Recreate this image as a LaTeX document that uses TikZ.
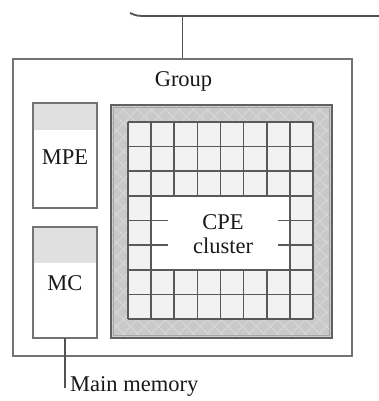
\documentclass[tikz,border=0pt]{standalone}
\usepackage{fontspec}
\setmainfont{Liberation Serif}
\begin{document}
\begin{tikzpicture}[x=1pt,y=-1pt,
  line/.style={draw=black!68,line width=1.8pt},
  boxline/.style={draw=black!55,line width=1.8pt},
  unit/.style={boxline,fill=white,minimum width=64pt,inner sep=0pt,outer sep=0pt},
  lbl/.style={font=\fontsize{22.5}{26}\selectfont,text=black!90,inner sep=0pt},
  gridline/.style={draw=black!65,line width=1.6pt}]
\useasboundingbox (0,0) rectangle (379,401);
% bus
\coordinate (busL) at (130,13);
\coordinate (busR) at (379,16);
\coordinate (tap) at (182.5,16);
\draw[line] (busL) .. controls (137,16) .. (148,16) -- (busR);
% group
\node[boxline,fill=white,minimum width=339pt,minimum height=297pt,inner sep=0pt] (group) at (182.5,207.5) {};
\draw[line] (tap) -- (group.north);
\node[lbl,anchor=base] (grouplbl) at (183.5,87) {Group};
% MPE and MC
\node[unit,minimum height=105pt] (mpe) at (65,155.5) {};
\fill[black!12] ([shift={(0.9pt,-0.9pt)}]mpe.north west) rectangle ([shift={(-0.9pt,-27pt)}]mpe.north east);
\node[lbl,anchor=base] at (65,164) {MPE};
\node[unit,minimum height=111pt] (mc) at (65,282.5) {};
\fill[black!12] ([shift={(0.9pt,-0.9pt)}]mc.north west) rectangle ([shift={(-0.9pt,-36pt)}]mc.north east);
\node[lbl,anchor=base] at (65,290) {MC};
% main memory
\coordinate (mm) at (65,388);
\draw[line] (mc.south) -- (mm);
\node[lbl,anchor=base west] (mmlbl) at (70,391) {Main memory};
% cluster
\node[minimum width=221pt,minimum height=233pt,inner sep=0pt,outer sep=0pt,fill=black!21] (cl) at (221.5,221.5) {};
\begin{scope}
\clip (cl.north west) rectangle (cl.south east);
\foreach \k in {-252,-238,...,252}{
  \draw[black!15,line width=0.8pt] (221.5+\k-130,221.5-130) -- (221.5+\k+130,221.5+130);
  \draw[black!15,line width=0.8pt] (221.5+\k+130,221.5-130) -- (221.5+\k-130,221.5+130);
}
\end{scope}
\draw[boxline,draw=black!62] (cl.north west) rectangle (cl.south east);
\draw[black!35,line width=1pt] ([shift={(2.5pt,-2.5pt)}]cl.north west) rectangle ([shift={(-2.5pt,2.5pt)}]cl.south east);
% grid
\def\gx#1{128+23.125*#1}
\def\gy#1{122+24.625*#1}
\fill[black!5] ({\gx0},{\gy0}) rectangle ({\gx8},{\gy8});
\fill[white] ({\gx1},{\gy3}) rectangle ({\gx7},{\gy6});
\foreach \i in {0,1,7,8}{\draw[gridline] ({\gx\i},{\gy0}) -- ({\gx\i},{\gy8});}
\foreach \i in {2,...,6}{
  \draw[gridline] ({\gx\i},{\gy0}) -- ({\gx\i},{\gy3});
  \draw[gridline] ({\gx\i},{\gy6}) -- ({\gx\i},{\gy8});}
\foreach \j in {0,1,2,3,6,7,8}{\draw[gridline] ({\gx0},{\gy\j}) -- ({\gx8},{\gy\j});}
\foreach \j in {4,5}{
  \draw[gridline] ({\gx0},{\gy\j}) -- (168,{\gy\j});
  \draw[gridline] (278,{\gy\j}) -- ({\gx8},{\gy\j});}
\node[lbl,anchor=base] (cpe) at (223,229) {CPE};
\node[lbl,anchor=base] (cpe2) at (223,253) {cluster};
\end{tikzpicture}
\end{document}
